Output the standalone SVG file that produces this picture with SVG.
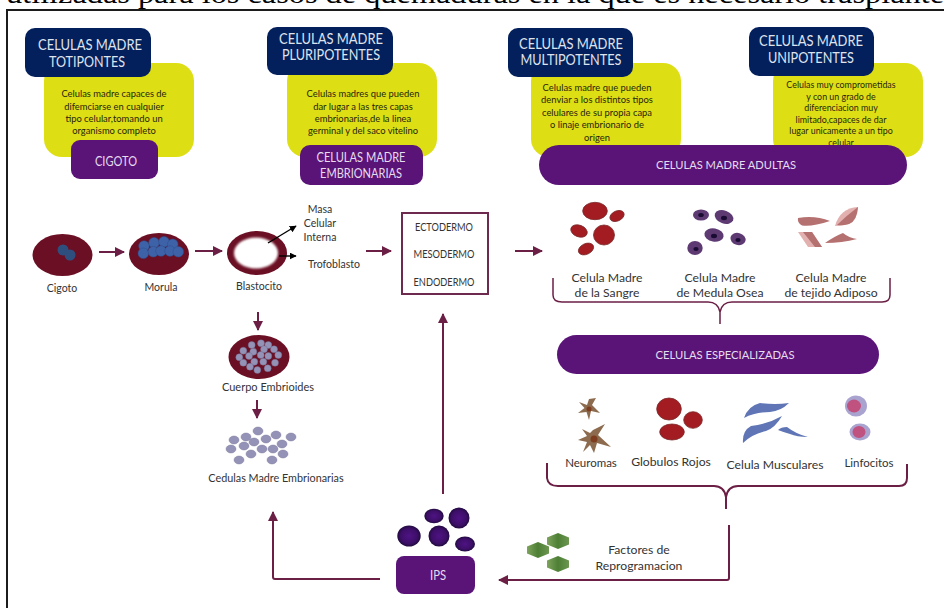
<svg xmlns="http://www.w3.org/2000/svg" width="944" height="608" viewBox="0 0 944 608">
<style>
text{font-family:"Lato","Open Sans","Liberation Sans",sans-serif;text-anchor:middle;fill:#333}
.head{font-size:14.5px;fill:#dfe3ee}
.wh{font-size:13.500px;fill:#e6dcef}
.wide{font-size:11.700px;fill:#e6dcef}
.body{font-size:9.400px;fill:#26260a}
.small{font-size:8.900px;fill:#26260a}
.lab{font-size:10.500px}
.cap{font-size:10.500px}
.big{font-size:12.200px}
.navy{fill:#03205c}
.yel{fill:#dede14}
.pur{fill:#5a1478}
.mar{fill:#6b0f24}
.red{fill:#a31c22;stroke:#7a2a2a;stroke-width:.8}
.stem{fill:#5e3a73}
.nuc{fill:#1a0b33}
.adi{fill:#b57070}
.adl{fill:#e2b0ae}
.mus{fill:#5f75b5}
.star{fill:#8d6b4e}
.hex{fill:url(#hexFill)}
.ips{fill:url(#ipsFill)}
.ball{fill:#9492b6;stroke:#6f6d92;stroke-width:.4}
.blue{fill:#3d62a8;stroke:#2f4f8c;stroke-width:.5}
.ln{fill:none;stroke:#6b1f45;stroke-width:2}
.bk{fill:none;stroke:#000;stroke-width:1.400}
</style>
<defs>
<marker id="tip" viewBox="0 0 10 10" refX="9" refY="5" markerUnits="userSpaceOnUse" markerWidth="10" markerHeight="10" orient="auto"><path d="M0 0L10 5L0 10z" fill="#6b1f45"/></marker>
<marker id="tipK" viewBox="0 0 10 10" refX="9" refY="5" markerUnits="userSpaceOnUse" markerWidth="7" markerHeight="7" orient="auto"><path d="M0 0L10 5L0 10z" fill="#000"/></marker>
<radialGradient id="ipsFill"><stop offset="0" stop-color="#4f1384"/><stop offset=".7" stop-color="#3d0f68"/><stop offset="1" stop-color="#220a40"/></radialGradient>
<linearGradient id="hexFill" x1="0" x2="1"><stop offset="0" stop-color="#7ea35c"/><stop offset=".5" stop-color="#4d7f35"/><stop offset="1" stop-color="#6c9750"/></linearGradient>
<filter id="soft" x="-20%" y="-20%" width="140%" height="140%"><feGaussianBlur stdDeviation="0.900"/></filter>
<polygon id="hx" points="-11,-3.500 0,-8 11,-3.500 11,3.500 0,8 -11,3.500"/>
</defs>

<rect width="944" height="608" fill="#fff"/>
<text x="475" y="3" style="font-family:'Liberation Serif',serif;font-size:27px;fill:#000" textLength="938" lengthAdjust="spacingAndGlyphs">utilizadas para los casos de quemaduras en la que es necesario trasplante</text>
<path d="M7 608V10H944" fill="none" stroke="#1c1c1c" stroke-width="2"/>

<g id="totipotentes">
<rect class="yel" x="44" y="63" width="150" height="94" rx="18"/>
<rect class="navy" x="25" y="28" width="126" height="49" rx="10"/>
<text class="head" x="90" y="50" textLength="104" lengthAdjust="spacingAndGlyphs">CELULAS MADRE</text><text class="head" x="87" y="67" textLength="76" lengthAdjust="spacingAndGlyphs">TOTIPONTES</text>
<text class="body" x="114" y="97">Celulas madre capaces de</text><text class="body" x="114" y="110">difemciarse en cualquier</text><text class="body" x="114" y="122">tipo celular,tomando un</text><text class="body" x="114" y="134">organismo completo</text>
<rect class="pur" x="71" y="140" width="87" height="39" rx="9"/>
<text class="wh" x="116" y="166" textLength="42" lengthAdjust="spacingAndGlyphs">CIGOTO</text>
</g>

<g id="pluripotentes">
<rect class="yel" x="287" y="63" width="150" height="94" rx="18"/>
<rect class="navy" x="267" y="27" width="126" height="48" rx="10"/>
<text class="head" x="331" y="44" textLength="104" lengthAdjust="spacingAndGlyphs">CELULAS MADRE</text><text class="head" x="331" y="60" textLength="98" lengthAdjust="spacingAndGlyphs">PLURIPOTENTES</text>
<text class="body" x="363" y="97">Celulas madres que pueden</text><text class="body" x="363" y="110">dar lugar a las tres capas</text><text class="body" x="363" y="122">embrionarias,de la linea</text><text class="body" x="363" y="134">germinal y del saco vitelino</text>
<rect class="pur" x="300" y="145" width="123" height="40" rx="10"/>
<text class="wh" x="361" y="162" textLength="89" lengthAdjust="spacingAndGlyphs">CELULAS MADRE</text><text class="wh" x="361" y="178" textLength="82" lengthAdjust="spacingAndGlyphs">EMBRIONARIAS</text>
</g>

<g id="multipotentes">
<rect class="yel" x="531" y="63" width="150" height="94" rx="18"/>
<rect class="navy" x="508" y="28" width="125" height="49" rx="10"/>
<text class="head" x="571" y="49" textLength="104" lengthAdjust="spacingAndGlyphs">CELULAS MADRE</text><text class="head" x="571" y="65" textLength="101" lengthAdjust="spacingAndGlyphs">MULTIPOTENTES</text>
<text class="body" x="597" y="91">Celulas madre que pueden</text><text class="body" x="597" y="103">denviar a los distintos tipos</text><text class="body" x="597" y="116">celulares de su propia capa</text><text class="body" x="597" y="128">o linaje embrionario de</text><text class="body" x="597" y="141">origen</text>
</g>

<g id="unipotentes">
<rect class="yel" x="773" y="63" width="150" height="94" rx="18"/>
<rect class="navy" x="749" y="27" width="125" height="49" rx="10"/>
<text class="head" x="811" y="46" textLength="104" lengthAdjust="spacingAndGlyphs">CELULAS MADRE</text><text class="head" x="811" y="63" textLength="86" lengthAdjust="spacingAndGlyphs">UNIPOTENTES</text>
<text class="small" x="841" y="88">Celulas muy comprometidas</text><text class="small" x="841" y="100">y con un grado de</text><text class="small" x="841" y="111">diferenciacion muy</text><text class="small" x="841" y="123">limitado,capaces de dar</text><text class="small" x="841" y="134">lugar unicamente a un tipo</text><text class="small" x="841" y="146">celular</text>
</g>

<g id="adultas">
<rect class="pur" x="539" y="145" width="368" height="40" rx="20"/>
<text class="wide" x="726" y="169" textLength="140" lengthAdjust="spacingAndGlyphs">CELULAS MADRE ADULTAS</text>
</g>

<g id="cigoto">
<ellipse class="mar" cx="62.500" cy="255" rx="30" ry="21"/>
<circle cx="63" cy="250" r="5.500" fill="#2e4f7e"/><circle cx="70" cy="255" r="5.500" fill="#2e4f7e"/>
<text class="lab" x="62" y="292">Cigoto</text>
</g>

<g id="morula">
<ellipse class="mar" cx="159" cy="254" rx="30" ry="21"/>
<circle class="blue" cx="144" cy="246" r="5.300"/><circle class="blue" cx="154" cy="242.700" r="5.300"/><circle class="blue" cx="164" cy="241.700" r="5.300"/><circle class="blue" cx="172.700" cy="244.300" r="5.300"/>
<circle class="blue" cx="143.300" cy="253.300" r="5.300"/><circle class="blue" cx="153.300" cy="251.700" r="5.300"/><circle class="blue" cx="161" cy="251" r="5.300"/><circle class="blue" cx="170" cy="251" r="5.300"/><circle class="blue" cx="178.300" cy="251.700" r="5.300"/>
<text class="lab" x="161" y="291">Morula</text>
</g>

<g id="blastocito">
<ellipse class="mar" cx="257" cy="253" rx="30" ry="22"/>
<ellipse cx="256" cy="253" rx="22" ry="15.500" fill="#fff" filter="url(#soft)"/>
<text class="lab" x="259" y="290">Blastocito</text>
</g>

<g id="masa"><text class="lab" x="320" y="213">Masa</text><text class="lab" x="320" y="227">Celular</text><text class="lab" x="320" y="241">Interna</text></g>
<g id="trofoblasto"><text class="lab" x="334" y="268">Trofoblasto</text></g>

<g id="capas">
<rect x="402" y="213" width="86" height="81" fill="#fff" stroke="#6e2a4e" stroke-width="2"/>
<text class="cap" x="444" y="231" textLength="58" lengthAdjust="spacingAndGlyphs">ECTODERMO</text><text class="cap" x="444" y="258" textLength="61" lengthAdjust="spacingAndGlyphs">MESODERMO</text><text class="cap" x="444" y="286" textLength="61" lengthAdjust="spacingAndGlyphs">ENDODERMO</text>
</g>

<g id="sangre">
<ellipse class="red" cx="595" cy="211" rx="12.300" ry="8.700"/>
<ellipse class="red" cx="617" cy="216" rx="7.500" ry="5" transform="rotate(-25 617 216)"/>
<ellipse class="red" cx="579" cy="231" rx="8.500" ry="5.800" transform="rotate(20 579 231)"/>
<ellipse class="red" cx="604" cy="235" rx="10.500" ry="10"/>
<ellipse class="red" cx="586" cy="249" rx="8" ry="5.300" transform="rotate(-25 586 249)"/>
<text class="big" x="607" y="282">Celula Madre</text><text class="big" x="607" y="297">de la Sangre</text>
</g>

<g id="medula">
<ellipse class="stem" cx="701" cy="215" rx="8" ry="5.500"/><ellipse class="nuc" cx="701" cy="215" rx="2.800" ry="2"/>
<ellipse class="stem" cx="724" cy="217" rx="9.700" ry="6.500" transform="rotate(20 724 217)"/><ellipse class="nuc" cx="724" cy="218" rx="3" ry="2.200"/>
<ellipse class="stem" cx="714" cy="235" rx="9.700" ry="6.700" transform="rotate(10 714 235)"/><ellipse class="nuc" cx="714" cy="236" rx="3" ry="2.200"/>
<ellipse class="stem" cx="738" cy="239" rx="7.700" ry="6" transform="rotate(15 738 239)"/><ellipse class="nuc" cx="738" cy="240" rx="2.600" ry="2"/>
<ellipse class="stem" cx="695" cy="248" rx="7.700" ry="7"/><ellipse class="nuc" cx="696" cy="249" rx="2.600" ry="2"/>
<text class="big" x="720" y="282">Celula Madre</text><text class="big" x="720" y="297">de Medula Osea</text>
</g>

<g id="adiposo">
<path class="adi" d="M798 218Q815 215 830 221Q812 227 802 225.500Q797 223 798 218z"/>
<path class="adl" d="M835 226Q840 208 858 207Q857 221 849 224Q842 226 835 226z"/>
<path class="adi" d="M837 225Q846 216 858 207Q857 221 849 224Q842 226 837 225z"/>
<path class="adl" d="M798 232L812 232L822 247L808 247z"/>
<path class="adi" d="M803 232L812 232L822 247L815 247z"/>
<path class="adi" d="M825 243Q835 236 843 233Q849 238 857 239Q842 243 825 243z"/>
<text class="big" x="831" y="282">Celula Madre</text><text class="big" x="831" y="297">de tejido Adiposo</text>
</g>

<g id="especializadas">
<rect class="pur" x="557" y="335" width="322" height="39" rx="19.500"/>
<text class="wide" x="725" y="359" textLength="139" lengthAdjust="spacingAndGlyphs">CELULAS ESPECIALIZADAS</text>
</g>

<g id="neuromas">
<path class="star" d="M596 398L592 405L600 413L591 411L589 420L586.500 412L578 413L584.500 408L579 402L587 405L589 399z"/>
<circle cx="589" cy="409" r="2.500" fill="#7d3d1e"/>
<path class="star" d="M605 424L598 435L611 447L597 443L594 453L590 445L583 452L587 442L578 440L587 436L582 429L590 433L593 430z"/>
<circle cx="594" cy="439" r="3.500" fill="#7d3d1e"/>
<text class="big" x="591" y="467" style="font-size:11.500px">Neuromas</text>
</g>

<g id="globulos">
<ellipse class="red" cx="669" cy="409" rx="12.300" ry="11"/>
<ellipse class="red" cx="693" cy="420" rx="9.300" ry="8.300"/>
<ellipse class="red" cx="672" cy="432" rx="12.300" ry="8"/>
<text class="big" x="671" y="466">Globulos Rojos</text>
</g>

<g id="musculares">
<path class="mus" d="M744 418Q748 406 760 403Q775 405 789 403Q781 411 770 412Q755 412 744 418z"/>
<path class="mus" d="M743 443Q742 431 751 426Q768 424 782 416Q775 428 766 431Q752 434 743 443z"/>
<path class="mus" d="M778 430Q781 427 787 427Q796 434 808 437Q797 437 790 434Q783 432 778 430z"/>
<text class="big" x="775" y="469">Celula Musculares</text>
</g>

<g id="linfocitos">
<ellipse cx="856" cy="406" rx="11" ry="10.500" fill="#a9a3d0"/><ellipse cx="854" cy="406" rx="7" ry="6.500" fill="#c0527f"/>
<ellipse cx="860" cy="432" rx="10.500" ry="8.500" fill="#a9a3d0"/><ellipse cx="859" cy="432" rx="6.500" ry="6" fill="#c0527f"/>
<text class="big" x="869" y="467" style="font-size:11.500px">Linfocitos</text>
</g>

<g id="cuerpo">
<ellipse class="mar" cx="259" cy="357" rx="30.500" ry="22"/>
<g class="ball">
<circle cx="251.700" cy="345" r="3.500"/><circle cx="261" cy="343.300" r="3.500"/><circle cx="268.300" cy="345" r="3.500"/><circle cx="274" cy="349.300" r="3.500"/><circle cx="243.300" cy="350.700" r="3.500"/><circle cx="253.300" cy="351.700" r="3.500"/><circle cx="264" cy="349.300" r="3.500"/><circle cx="278.300" cy="355" r="3.500"/><circle cx="239.300" cy="357.300" r="3.500"/><circle cx="249" cy="356" r="3.500"/><circle cx="260.700" cy="355" r="3.500"/><circle cx="268.300" cy="356" r="3.500"/><circle cx="243.300" cy="362.700" r="3.500"/><circle cx="254.300" cy="361.700" r="3.500"/><circle cx="263.300" cy="361.700" r="3.500"/><circle cx="275" cy="362.700" r="3.500"/><circle cx="250" cy="366.700" r="3.500"/><circle cx="257.300" cy="370" r="3.500"/><circle cx="267.700" cy="368.300" r="3.500"/>
</g>
<text class="lab" x="268" y="391" style="font-size:11px">Cuerpo Embrioides</text>
</g>

<g id="embrionarias">
<g class="ball">
<ellipse cx="258" cy="431" rx="5" ry="4"/><ellipse cx="234" cy="440" rx="5" ry="4"/><ellipse cx="246" cy="437" rx="5" ry="4"/><ellipse cx="276" cy="435" rx="5" ry="4"/><ellipse cx="291" cy="437" rx="5" ry="4"/><ellipse cx="266" cy="439" rx="5" ry="4"/><ellipse cx="254" cy="442" rx="5" ry="4"/><ellipse cx="282" cy="444" rx="5" ry="4"/><ellipse cx="244" cy="446" rx="5" ry="4"/><ellipse cx="231" cy="449" rx="5" ry="4"/><ellipse cx="262" cy="449" rx="5" ry="4"/><ellipse cx="273" cy="449" rx="5" ry="4"/><ellipse cx="283" cy="454" rx="5" ry="4"/><ellipse cx="251" cy="454" rx="5" ry="4"/><ellipse cx="239" cy="460" rx="5" ry="4"/><ellipse cx="272" cy="460" rx="5" ry="4"/>
</g>
<text class="lab" x="276" y="482" style="font-size:10.800px">Cedulas Madre Embrionarias</text>
</g>

<g id="ips">
<ellipse class="ips" cx="434" cy="516" rx="9.700" ry="7.300"/>
<circle class="ips" cx="459" cy="518" r="10.500"/>
<ellipse class="ips" cx="409" cy="536" rx="11.700" ry="10.500"/>
<circle class="ips" cx="439" cy="536" r="10.500"/>
<ellipse class="ips" cx="465" cy="544" rx="10" ry="7.500"/>
<rect class="pur" x="396" y="556" width="79" height="38" rx="8"/>
<text class="wh" x="438" y="580" textLength="16" lengthAdjust="spacingAndGlyphs">IPS</text>
</g>

<g id="factores">
<use href="#hx" class="hex" x="558" y="541"/><use href="#hx" class="hex" x="538" y="550"/><use href="#hx" class="hex" x="558" y="564"/>
<text class="big" x="639" y="554">Factores de</text><text class="big" x="639" y="570">Reprogramacion</text>
</g>

<g id="connectors">
<path class="ln" d="M99 252H124" marker-end="url(#tip)"/>
<path class="ln" d="M195 251H222" marker-end="url(#tip)"/>
<path class="ln" d="M366 251H391" marker-end="url(#tip)"/>
<path class="ln" d="M515 251H542" marker-end="url(#tip)"/>
<path class="ln" d="M258 312V330" marker-end="url(#tip)"/>
<path class="ln" d="M257 400V418" marker-end="url(#tip)"/>
<path class="ln" d="M443 494V314" marker-end="url(#tip)"/>
<path class="ln" d="M380 579H275Q273 579 273 577V512" marker-end="url(#tip)"/>
<path class="ln" d="M729 525V578Q729 580 727 580H499" marker-end="url(#tip)"/>
<path class="bk" d="M268 243L296 226" marker-end="url(#tipK)"/>
<path class="bk" d="M279 256H296" marker-end="url(#tipK)"/>
<path class="ln" style="stroke-width:1.500" d="M553 278V295Q553 302 562 302H708Q718 302 720 312Q722 302 732 302H882Q890 302 890 295V278M720 312V324"/>
<path class="ln" d="M547 463V478Q548 486 558 486H714Q724 486 726 497Q728 486 738 486H899Q907 486 907 478V464M726 497V509"/>
</g>
</svg>
